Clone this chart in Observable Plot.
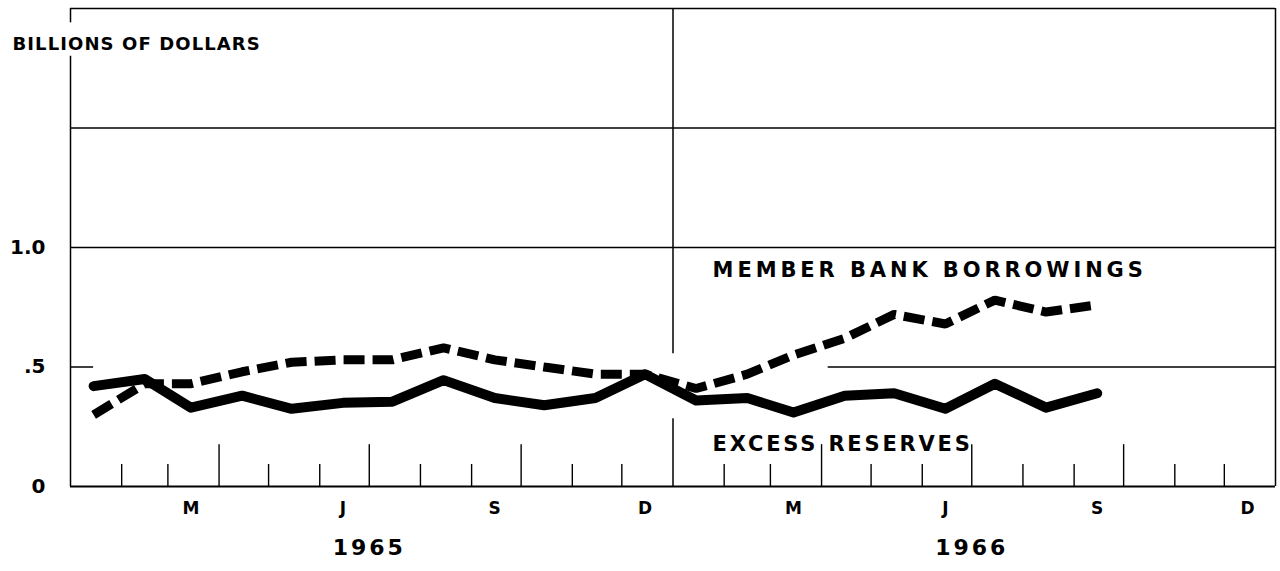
<!DOCTYPE html>
<html>
<head>
<meta charset="utf-8">
<script src="https://cdn.jsdelivr.net/npm/d3@7"></script>
<script src="https://cdn.jsdelivr.net/npm/@observablehq/plot@0.6"></script>
<style>
  html, body { margin: 0; padding: 0; background: #fff; }
  svg { display: block; }
</style>
</head>
<body>
<div id="chart"></div>
<script>
// ---- data ----
const months = ["1965-01","1965-02","1965-03","1965-04","1965-05","1965-06","1965-07","1965-08","1965-09","1965-10","1965-11","1965-12",
                "1966-01","1966-02","1966-03","1966-04","1966-05","1966-06","1966-07","1966-08","1966-09"];
const excessReserves = [0.42,0.45,0.33,0.38,0.325,0.35,0.355,0.445,0.37,0.34,0.37,0.47,0.36,0.37,0.31,0.38,0.39,0.325,0.43,0.33,0.39];
const memberBankBorrowings = [0.30,0.43,0.43,0.48,0.52,0.53,0.53,0.58,0.53,0.50,0.47,0.47,0.41,0.47,0.55,0.62,0.72,0.68,0.78,0.73,0.76];
const yTicks = [0, 0.5, 1.0];
const yTickLabels = ["0", ".5", "1.0"];
const gridValues = [1.0, 1.5, 2.0];
const monthLabelMonths = ["1965-03","1965-06","1965-09","1965-12","1966-03","1966-06","1966-09","1966-12"];
const monthLabelText = ["M","J","S","D","M","J","S","D"];
const years = ["1965","1966"];
const unitLabel = "BILLIONS OF DOLLARS";
const seriesLabels = ["MEMBER BANK BORROWINGS", "EXCESS RESERVES"];
const seriesLabelAnchors = [["1966-01-25", 0.905], ["1966-01-25", 0.175]];
// gridline .5 shown only where the series do not cover it
const halfGridSegments = [["1965-01-01","1965-01-15"],["1966-04-05","1967-01-01"]];
const dividerSegments = [[0.555, 2.0],[0, 0.283]];
const leftFrameSegments = [[0, 1.80],[1.94, 2.0]];

// ---- helpers ----
const mid = m => new Date(m + "-15T00:00:00Z");
const start = "1965-01-01", end = "1967-01-01";
const D = s => new Date(s.length === 7 ? s + "-01T00:00:00Z" : s + "T00:00:00Z");

const excess = months.map((m, i) => ({date: mid(m), value: excessReserves[i]}));
const borrow = months.map((m, i) => ({date: mid(m), value: memberBankBorrowings[i]}));

// monthly boundary ticks (excluding frame edges and year divider)
const boundaries = d3.utcMonths(D(start), D(end)).filter(d => !(d.getUTCMonth() === 0));
const shortTicks = boundaries.filter(d => d.getUTCMonth() % 3 !== 0);
const tallTicks = boundaries.filter(d => d.getUTCMonth() % 3 === 0);

const font = "'DejaVu Sans', sans-serif";

const chart = Plot.plot({
  width: 1280,
  height: 571,
  marginLeft: 70,
  marginRight: 5,
  marginTop: 8,
  marginBottom: 85,
  style: {fontFamily: font, fontWeight: "bold", color: "#000", background: "#fff"},
  x: {type: "utc", domain: [D(start), D(end)], axis: null},
  y: {domain: [0, 2], axis: null},
  marks: [
    // grid & frame
    Plot.ruleY(gridValues, {stroke: "#000", strokeWidth: 1.5}),
    Plot.ruleY(halfGridSegments, {y: 0.5, x1: d => D(d[0]), x2: d => D(d[1]), stroke: "#000", strokeWidth: 1.5}),
    Plot.ruleY([0], {stroke: "#000", strokeWidth: 2.2}),
    Plot.ruleX(leftFrameSegments, {x: D(start), y1: d => d[0], y2: d => d[1], stroke: "#000", strokeWidth: 1.5}),
    Plot.ruleX([D(end)], {y1: 0, y2: 2, stroke: "#000", strokeWidth: 1.5}),
    Plot.ruleX(dividerSegments, {x: D("1966-01-01"), y1: d => d[0], y2: d => d[1], stroke: "#000", strokeWidth: 1.5}),
    // month ticks
    Plot.ruleX(shortTicks, {y1: 0, y2: 0.092, stroke: "#000", strokeWidth: 1.4}),
    Plot.ruleX(tallTicks, {y1: 0, y2: 0.175, stroke: "#000", strokeWidth: 1.4}),
    // series
    Plot.line(borrow, {x: "date", y: "value", stroke: "#000", strokeWidth: 9, strokeDasharray: "21,8", strokeLinecap: "butt", strokeLinejoin: "miter"}),
    Plot.line(excess, {x: "date", y: "value", stroke: "#000", strokeWidth: 10, strokeLinecap: "round", strokeLinejoin: "round"}),
    // y labels
    Plot.text(yTicks, {y: d => d, text: (d, i) => yTickLabels[i], frameAnchor: "left", dx: -25, textAnchor: "end", fontSize: 20, fontWeight: "bold", fill: "#000"}),
    Plot.text([unitLabel], {frameAnchor: "top-left", dx: -58, dy: 29, textAnchor: "start", fontSize: 18, fontWeight: "bold", fill: "#000"}),
    // series labels
    Plot.text(seriesLabels, {x: (d, i) => D(seriesLabelAnchors[i][0]), y: (d, i) => seriesLabelAnchors[i][1], text: d => d, textAnchor: "start", fontSize: 21, fontWeight: "bold", fill: "#000"}),
    // month labels
    Plot.text(monthLabelMonths, {x: d => mid(d), text: (d, i) => monthLabelText[i], frameAnchor: "bottom", dy: 27, fontSize: 17, fontWeight: "bold", fill: "#000"}),
    // year labels
    Plot.text(years, {x: d => D(d + "-07-01"), text: d => d, frameAnchor: "bottom", dy: 68, fontSize: 22, fontWeight: "bold", fill: "#000"})
  ]
});

// letter spacing as in the original lettering
d3.select(chart).selectAll("text").each(function () {
  const t = this.textContent;
  let ls = 0;
  if (t === unitLabel) ls = 1.1;
  else if (t === seriesLabels[0]) ls = 3.9;
  else if (t === seriesLabels[1]) ls = 2.8;
  else if (years.includes(t)) ls = 3;
  if (ls) this.style.letterSpacing = ls + "px";
});

document.getElementById("chart").appendChild(chart);
</script>
</body>
</html>
